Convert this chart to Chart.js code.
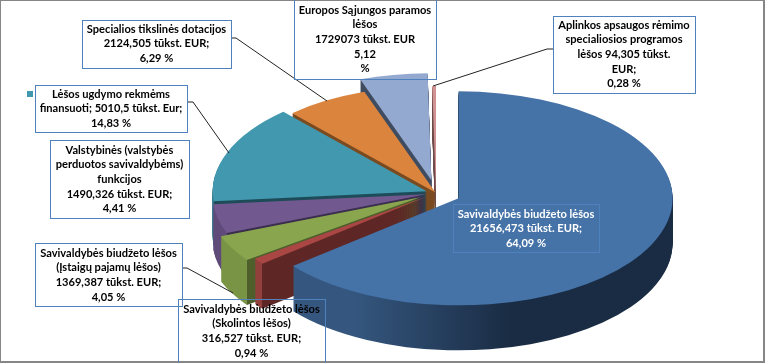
<!DOCTYPE html>
<html>
<head>
<meta charset="utf-8">
<style>html,body{margin:0;padding:0;background:#fff}canvas{display:block}</style>
<script src="https://cdn.jsdelivr.net/npm/chart.js@4"></script>
</head>
<body>
<canvas id="c" width="765" height="363"></canvas>
<script>
// Data
const categories = [
  "Savivaldybės biudžeto lėšos",
  "Savivaldybės biudžeto lėšos (Skolintos lėšos)",
  "Savivaldybės biudžeto lėšos (Įstaigų pajamų lėšos)",
  "Valstybinės (valstybės perduotos savivaldybėms) funkcijos",
  "Lėšos ugdymo rekmėms finansuoti",
  "Specialios tikslinės dotacijos",
  "Europos Sąjungos paramos lėšos",
  "Aplinkos apsaugos rėmimo specialiosios programos lėšos"
];
const amounts = [21656.473, 316.527, 1369.387, 1490.326, 5010.5, 2124.505, 1729.073, 94.305];
const labelLines = [
  ["Savivaldybės biudžeto lėšos","21656,473 tūkst. EUR;","64,09 %"],
  ["Savivaldybės biudžeto lėšos","(Skolintos lėšos)","316,527 tūkst. EUR;","0,94 %"],
  ["Savivaldybės biudžeto lėšos","(Įstaigų pajamų lėšos)","1369,387 tūkst. EUR;","4,05 %"],
  ["Valstybinės (valstybės","perduotos savivaldybėms)","funkcijos","1490,326 tūkst. EUR;","4,41 %"],
  ["Lėšos ugdymo rekmėms","finansuoti; 5010,5 tūkst. Eur;","14,83 %"],
  ["Specialios tikslinės dotacijos","2124,505 tūkst. EUR;","6,29 %"],
  ["Europos Sąjungos paramos","lėšos","1729073 tūkst. EUR","5,12","%"],
  ["Aplinkos apsaugos rėmimo","specialiosios programos","lėšos 94,305 tūkst.","EUR;","0,28 %"]
];
// Styles
const topColors  = ["#4572A7","#AA4643","#89A54E","#71588F","#4198AF","#DB843D","#93A9CF","#D19392"];
const outerWalls = ["#35577f","#93403d","#7a9446","#5f4a7a","#2f7488","#a8642d","#7385a6","#a87674"];
const cutWalls   = ["#1a2c44","#5e2725","#4e5f2c","#3a2d4e","#1d4b58","#7a4a20","#3f4c60","#6b4a49"];
const explode = [25, 10, 18, 10, 10, 1, 26, 0];
const boxes = [[453,204,146,48],[178,299,147,64],[35,243,147,63],[50,140,139,78],[35,85,152,47],[82,20,149,48],[294,-2,142,81],[553,16,142,77]];
const firstLine = [214,309,253,150,94,29,10,25];
const lineStep = 14.7;
const leaders = [null,null,[[182,268],[187,268],[233,293]],null,[[187,102],[193,102],[229,153]],[[231,38],[236,38],[327,101]],null,[[553,49],[547,49],[433,86]]];
const FLAT = 0.5, DEPTH = 45;

const pie3d = {
  id: 'pie3d',
  beforeDatasetsDraw(chart) {
    const ctx = chart.ctx, arcs = chart.getDatasetMeta(0).data;
    for (let i = arcs.length - 1; i >= 0; i--) {
      const arc = arcs[i], base = arc.options;
      const mid = (arc.startAngle + arc.endAngle) / 2;
      const ox = explode[i] * Math.cos(mid), oy = explode[i] * Math.sin(mid) * FLAT;
      const place = d => {
        ctx.translate(arc.x + ox, arc.y + oy + d);
        ctx.scale(1, FLAT);
        ctx.translate(-arc.x, -arc.y);
      };
      const R = arc.outerRadius;
      const g = ctx.createLinearGradient(arc.x - R, 0, arc.x + R, 0);
      if (i === 0) {
        g.addColorStop(0, outerWalls[0]);
        g.addColorStop(0.25, outerWalls[0]);
        g.addColorStop(0.62, cutWalls[0]);
        g.addColorStop(1, cutWalls[0]);
      } else {
        const t = Math.min(1, Math.max(0, (Math.cos(arc.startAngle) + 1) / 2));
        g.addColorStop(0, outerWalls[i]);
        g.addColorStop(t, outerWalls[i]);
        g.addColorStop(t, cutWalls[i]);
        g.addColorStop(1, cutWalls[i]);
      }
      arc.options = Object.assign({}, base, { backgroundColor: g });
      for (let d = DEPTH; d >= 1; d--) {
        ctx.save(); place(d); arc.draw(ctx); ctx.restore();
      }
      arc.options = base;
      ctx.save(); place(0); arc.draw(ctx); ctx.restore();
    }
    return false;
  },
  afterDraw(chart) {
    const ctx = chart.ctx;
    ctx.save();
    // frame
    ctx.strokeStyle = '#868686'; ctx.lineWidth = 2;
    ctx.strokeRect(0, 0, 764, 362);
    // leader lines
    ctx.strokeStyle = '#222'; ctx.lineWidth = 1;
    leaders.forEach(l => {
      if (!l) return;
      ctx.beginPath();
      l.forEach((p, k) => k ? ctx.lineTo(p[0], p[1]) : ctx.moveTo(p[0], p[1]));
      ctx.stroke();
    });
    // legend key
    ctx.fillStyle = topColors[4];
    ctx.fillRect(27, 91, 6, 6);
    // boxes
    ctx.font = 'bold 11.1px Lato';
    ctx.textAlign = 'center';
    ctx.textBaseline = 'middle';
    labelLines.forEach((lines, i) => {
      const b = boxes[i];
      ctx.strokeStyle = '#4F81BD'; ctx.lineWidth = 1;
      ctx.strokeRect(b[0] + .5, b[1] + .5, b[2], b[3]);
      ctx.fillStyle = i === 0 ? '#fff' : '#000';
      lines.forEach((t, k) => ctx.fillText(t, b[0] + b[2] / 2, firstLine[i] + k * lineStep));
    });
    ctx.restore();
  }
};

new Chart(document.getElementById('c'), {
  type: 'pie',
  data: {
    labels: categories,
    datasets: [{ data: amounts, backgroundColor: topColors, borderWidth: 0, radius: 214 }]
  },
  options: {
    responsive: false,
    animation: false,
    layout: { padding: { left: 107, top: 23, right: 0, bottom: 0 } },
    plugins: { legend: { display: false }, tooltip: { enabled: false }, title: { display: false } }
  },
  plugins: [pie3d]
});
</script>
</body>
</html>
